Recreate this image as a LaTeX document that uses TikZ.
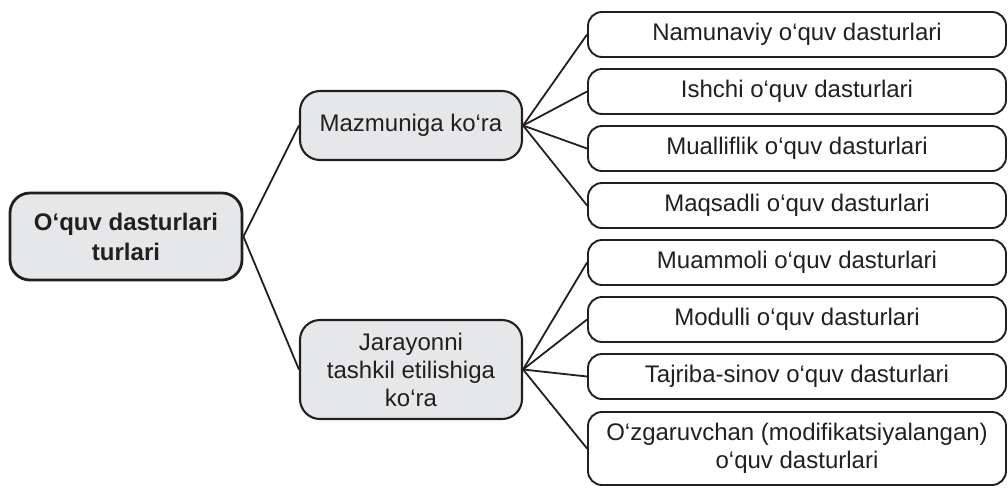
\documentclass[tikz,border=0pt]{standalone}
\usepackage{fontspec}
\setmainfont{Liberation Sans}
\definecolor{ink}{HTML}{231F20}
\definecolor{boxfill}{HTML}{E6E7E8}
\begin{document}
\begin{tikzpicture}[x=1pt,y=-1pt,
  base/.style={draw=ink, text=ink, align=center, inner sep=0pt,
    font=\fontsize{24}{28}\selectfont},
  rootbox/.style={base, fill=boxfill, line width=2.8pt, rounded corners=20pt,
    minimum width=232pt, minimum height=87pt, font=\fontsize{24}{30}\selectfont\bfseries},
  midbox/.style={base, fill=boxfill, line width=2.1pt, rounded corners=20pt,
    minimum width=222pt},
  leafbox/.style={base, fill=white, line width=1.9pt, rounded corners=14pt,
    minimum width=418pt, minimum height=45pt},
  link/.style={draw=ink, line width=1.8pt}]
\useasboundingbox (0,0) rectangle (1008,488);

\node[rootbox] (root) at (126,236.5) {O‘quv dasturlari\\turlari};

\node[midbox, minimum height=69pt] (m1) at (411,125.5) {Mazmuniga ko‘ra};
\node[midbox, minimum height=99pt] (m2) at (411,369.5) {Jarayonni\\tashkil etilishiga\\ko‘ra};

\node[leafbox] (l1) at (797,34.5) {Namunaviy o‘quv dasturlari};
\node[leafbox] (l2) at (797,91.5) {Ishchi o‘quv dasturlari};
\node[leafbox] (l3) at (797,148.5) {Mualliflik o‘quv dasturlari};
\node[leafbox] (l4) at (797,205.5) {Maqsadli o‘quv dasturlari};
\node[leafbox] (l5) at (797,262.5) {Muammoli o‘quv dasturlari};
\node[leafbox] (l6) at (797,319.5) {Modulli o‘quv dasturlari};
\node[leafbox] (l7) at (797,376.5) {Tajriba-sinov o‘quv dasturlari};
\node[leafbox, minimum height=73pt] (l8) at (797,448.5) {O‘zgaruvchan (modifikatsiyalangan)\\o‘quv dasturlari};

\draw[link] (root.east) -- (m1.west);
\draw[link] (root.east) -- (m2.west);
\foreach \i in {1,2,3,4} \draw[link] (m1.east) -- (l\i.west);
\foreach \i in {5,6,7,8} \draw[link] (m2.east) -- (l\i.west);
\end{tikzpicture}
\end{document}
